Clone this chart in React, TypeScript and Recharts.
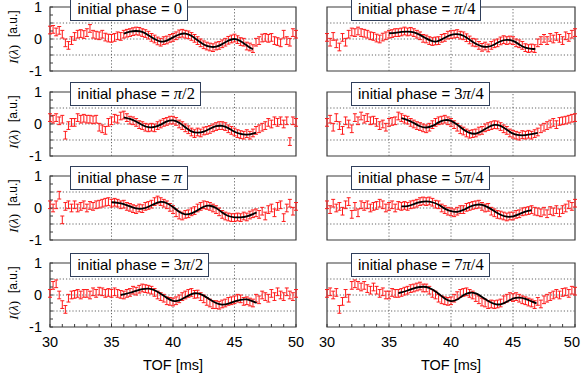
import React from 'react';
import { ComposedChart, Scatter, Line, XAxis, YAxis, ErrorBar, ReferenceLine, ReferenceArea } from 'recharts';

// ---------- data ----------
const TOF = [
  30, 30.25, 30.5, 30.75, 31, 31.25, 31.5, 31.75, 32, 32.25, 32.5, 32.75,
  33, 33.25, 33.5, 33.75, 34, 34.25, 34.5, 34.75, 35, 35.25, 35.5, 35.75,
  36, 36.25, 36.5, 36.75, 37, 37.25, 37.5, 37.75, 38, 38.25, 38.5, 38.75,
  39, 39.25, 39.5, 39.75, 40, 40.25, 40.5, 40.75, 41, 41.25, 41.5, 41.75,
  42, 42.25, 42.5, 42.75, 43, 43.25, 43.5, 43.75, 44, 44.25, 44.5, 44.75,
  45, 45.25, 45.5, 45.75, 46, 46.25, 46.5, 46.75, 47, 47.25, 47.5, 47.75,
  48, 48.25, 48.5, 48.75, 49, 49.25, 49.5, 49.75, 50,
];
const X_TICKS = [30, 31, 32, 33, 34, 35, 36, 37, 38, 39, 40, 41, 42, 43, 44, 45, 46, 47, 48, 49, 50];
const X_LABELED = [30, 35, 40, 45, 50];
const Y_TICKS = [-1, -0.75, -0.5, -0.25, 0, 0.25, 0.5, 0.75, 1];
const Y_LABELED = [-1, 0, 1];
const X_GRID = [35, 40, 45];
const Y_GRID = [-0.5, 0, 0.5];
const ERR = 0.12;

const PHASE_LABELS = ['0', 'π/4', 'π/2', '3π/4', 'π', '5π/4', '3π/2', '7π/4'];

const I_PH0 = [
  0.28, 0.3, 0.22, 0.27, 0.15, -0.12, -0.2, -0.05, 0.08, 0.15, 0.17, 0.14,
  0.2, 0.33, 0.15, 0.12, 0.1, 0.15, 0.06, 0.03, 0.02, 0.05, 0.1, 0.08,
  0.15, 0.18, 0.2, 0.23, 0.25, 0.24, 0.2, 0.17, 0.12, 0.05, 0.0, -0.06,
  -0.1, -0.05, -0.03, 0.02, 0.05, 0.1, 0.16, 0.18, 0.15, 0.13, 0.08, 0.02,
  -0.05, -0.12, -0.18, -0.22, -0.25, -0.27, -0.22, -0.2, -0.15, -0.1, -0.04, 0.0,
  0.03, -0.02, -0.08, -0.1, -0.22, -0.25, -0.3, -0.1, -0.05, 0.03, 0.05, 0.02,
  0.05, -0.05, -0.08, -0.12, 0.15, -0.05, -0.1, 0.2, 0.15,
];
const I_PH1 = [
  0.05, -0.1, 0.08, -0.15, -0.25, 0.05, -0.1, 0.15, 0.22, 0.2, 0.25, 0.2,
  0.18, 0.15, 0.1, 0.08, 0.03, 0.0, 0.06, 0.1, 0.15, 0.17, 0.2, 0.2,
  0.22, 0.25, 0.22, 0.24, 0.2, 0.15, 0.1, 0.02, 0.0, -0.05, -0.08, -0.06,
  -0.05, 0.02, 0.05, 0.12, 0.14, 0.15, 0.17, 0.12, 0.1, 0.04, -0.03, -0.1,
  -0.12, -0.2, -0.26, -0.22, -0.28, -0.2, -0.15, -0.12, -0.06, -0.02, -0.05, -0.03,
  -0.05, -0.12, -0.15, -0.2, -0.27, -0.3, -0.28, -0.3, -0.12, -0.05, 0.02, -0.05,
  0.05, 0.0, 0.08, 0.02, -0.05, 0.1, 0.05, 0.15, 0.2,
];
const I_PH2 = [
  0.2, 0.15, 0.2, 0.1, 0.15, -0.35, -0.05, 0.05, 0.05, 0.2, 0.15, 0.18,
  0.15, 0.15, 0.13, 0.15, -0.1, -0.15, -0.2, 0.05, 0.1, 0.18, 0.15, 0.25,
  0.28, 0.2, 0.12, 0.1, 0.05, -0.02, -0.05, -0.1, -0.12, -0.1, -0.12, -0.05,
  0.0, 0.05, 0.08, 0.12, 0.12, 0.08, 0.0, -0.05, -0.12, -0.18, -0.25, -0.3,
  -0.25, -0.28, -0.22, -0.2, -0.17, -0.12, -0.08, -0.05, -0.05, -0.08, -0.15, -0.2,
  -0.25, -0.3, -0.33, -0.35, -0.3, -0.35, -0.28, -0.2, -0.15, -0.1, -0.05, 0.05,
  0.0, 0.1, 0.05, 0.1, 0.0, 0.1, -0.55, 0.1, 0.05,
];
const I_PH3 = [
  0.05, 0.15, -0.1, 0.2, -0.05, -0.2, 0.1, 0.0, -0.15, 0.2, 0.1, 0.25,
  0.15, 0.2, 0.1, 0.12, 0.05, -0.05, 0.0, -0.1, 0.05, 0.08, 0.1, 0.25,
  0.2, 0.15, 0.12, 0.05, 0.0, -0.05, -0.08, -0.12, -0.15, -0.1, -0.02, 0.05,
  0.1, 0.12, 0.15, 0.1, 0.05, -0.02, -0.1, -0.18, -0.22, -0.28, -0.32, -0.3,
  -0.28, -0.22, -0.2, -0.12, -0.08, -0.05, -0.02, -0.03, -0.08, -0.15, -0.2, -0.28,
  -0.32, -0.35, -0.38, -0.33, -0.35, -0.32, -0.35, -0.3, -0.25, -0.15, -0.1, -0.05,
  0.0, 0.05, -0.02, 0.08, 0.1, 0.12, 0.15, 0.18, 0.2,
];
const I_PH4 = [
  0.1, 0.0, 0.1, 0.4, -0.37, 0.05, 0.1, 0.0, 0.1, 0.0, 0.05, 0.1,
  0.0, 0.08, 0.05, 0.1, 0.12, 0.15, 0.18, 0.2, 0.15, 0.18, 0.15, 0.1,
  0.12, 0.05, 0.02, -0.02, -0.05, 0.0, -0.02, 0.05, 0.08, 0.12, 0.2, 0.25,
  0.2, 0.15, 0.1, 0.02, -0.05, -0.15, -0.22, -0.25, -0.2, -0.18, -0.12, -0.08,
  0.0, 0.05, 0.1, 0.08, 0.05, 0.0, -0.05, -0.12, -0.2, -0.25, -0.28, -0.3,
  -0.3, -0.28, -0.3, -0.25, -0.28, -0.22, -0.18, -0.15, -0.2, -0.1, -0.25, -0.05,
  0.0, -0.15, 0.05, 0.1, -0.3, 0.0, 0.15, -0.1, 0.05,
];
const I_PH5 = [
  0.1, -0.05, 0.15, 0.0, 0.05, -0.1, 0.1, 0.2, -0.2, 0.05, -0.15, 0.1,
  0.05, 0.1, 0.0, 0.05, 0.08, 0.15, 0.1, 0.0, 0.05, 0.1, 0.0, 0.08,
  0.05, 0.08, 0.05, 0.1, 0.12, 0.15, 0.2, 0.22, 0.2, 0.22, 0.18, 0.12,
  0.1, 0.0, -0.05, -0.1, -0.12, -0.15, -0.1, -0.05, -0.05, 0.02, 0.05, 0.08,
  0.1, 0.12, 0.05, 0.0, 0.02, -0.1, -0.15, -0.2, -0.22, -0.25, -0.28, -0.25,
  -0.25, -0.2, -0.18, -0.12, -0.1, -0.08, -0.05, -0.1, -0.12, -0.15, -0.1, -0.18,
  -0.08, -0.12, -0.05, -0.15, -0.05, 0.0, 0.1, 0.05, 0.15,
];
const I_PH6 = [
  0.05, 0.3, 0.35, 0.0, -0.3, -0.45, -0.1, 0.0, 0.02, 0.05, 0.0, 0.05,
  0.05, 0.0, 0.1, 0.05, 0.12, 0.1, 0.05, 0.08, 0.05, 0.1, 0.05, 0.02,
  0.0, 0.05, 0.08, 0.15, 0.12, 0.18, 0.22, 0.2, 0.18, 0.15, 0.08, 0.0,
  -0.05, -0.1, -0.18, -0.2, -0.22, -0.18, -0.12, -0.05, 0.0, 0.05, 0.08, 0.02,
  0.03, -0.05, -0.12, -0.2, -0.25, -0.3, -0.3, -0.32, -0.28, -0.25, -0.2, -0.18,
  -0.15, -0.1, -0.12, -0.2, -0.18, -0.22, -0.25, -0.1, -0.15, 0.0, -0.05, -0.1,
  0.05, -0.05, 0.1, 0.0, -0.05, 0.1, 0.0, -0.05, 0.05,
];
const I_PH7 = [
  0.05, 0.1, 0.0, 0.08, -0.45, -0.2, 0.05, -0.1, 0.3, 0.35, 0.3, 0.25,
  0.3, 0.2, 0.15, 0.25, 0.15, 0.05, 0.1, 0.0, 0.0, 0.08, 0.05, 0.05,
  0.08, 0.12, 0.15, 0.2, 0.22, 0.25, 0.28, 0.22, 0.22, 0.15, 0.05, 0.0,
  -0.1, -0.15, -0.18, -0.2, -0.18, -0.1, -0.02, 0.05, 0.08, 0.1, 0.05, 0.0,
  -0.08, -0.15, -0.22, -0.25, -0.3, -0.28, -0.3, -0.28, -0.25, -0.15, -0.1, -0.05,
  -0.08, -0.05, -0.1, -0.15, -0.18, -0.22, -0.25, -0.3, -0.2, -0.28, -0.15, -0.1,
  -0.05, 0.0, 0.05, 0.0, 0.08, 0.1, 0.05, 0.15, 0.12,
];

const FIT_X_PH0 = [36, 36.5, 37, 37.5, 38, 38.5, 39, 39.5, 40, 40.5, 41, 41.5, 42, 42.5, 43, 43.5, 44, 44.5, 45, 45.5, 46, 46.5];
const FIT_Y_PH0 = [0.17, 0.23, 0.25, 0.22, 0.12, 0.0, -0.08, -0.05, 0.05, 0.14, 0.17, 0.1, -0.04, -0.17, -0.24, -0.24, -0.16, -0.05, 0.0, -0.07, -0.2, -0.32];
const FIT_X_PH1 = [35, 35.5, 36, 36.5, 37, 37.5, 38, 38.5, 39, 39.5, 40, 40.5, 41, 41.5, 42, 42.5, 43, 43.5, 44, 44.5, 45, 45.5, 46, 46.5, 46.8];
const FIT_Y_PH1 = [0.18, 0.19, 0.22, 0.23, 0.21, 0.13, 0.02, -0.07, -0.06, 0.04, 0.13, 0.15, 0.1, -0.02, -0.15, -0.23, -0.24, -0.17, -0.07, -0.03, -0.06, -0.17, -0.27, -0.31, -0.31];
const FIT_X_PH2 = [36, 36.5, 37, 37.5, 38, 38.5, 39, 39.5, 40, 40.5, 41, 41.5, 42, 42.5, 43, 43.5, 44, 44.5, 45, 45.5, 46, 46.5, 46.75];
const FIT_Y_PH2 = [0.21, 0.16, 0.08, -0.03, -0.1, -0.09, -0.02, 0.08, 0.11, 0.04, -0.1, -0.23, -0.27, -0.24, -0.15, -0.07, -0.06, -0.13, -0.24, -0.31, -0.33, -0.3, -0.27];
const FIT_X_PH3 = [36, 36.5, 37, 37.5, 38, 38.5, 39, 39.5, 40, 40.5, 41, 41.5, 42, 42.5, 43, 43.5, 44, 44.5, 45, 45.5, 46, 46.5, 47];
const FIT_Y_PH3 = [0.18, 0.12, 0.03, -0.07, -0.11, -0.06, 0.05, 0.12, 0.1, -0.02, -0.17, -0.28, -0.3, -0.22, -0.1, -0.03, -0.06, -0.18, -0.3, -0.35, -0.35, -0.32, -0.28];
const FIT_X_PH4 = [35, 35.5, 36, 36.5, 37, 37.5, 38, 38.5, 39, 39.5, 40, 40.5, 41, 41.5, 42, 42.5, 43, 43.5, 44, 44.5, 45, 45.5, 46, 46.5, 46.8];
const FIT_Y_PH4 = [0.18, 0.16, 0.12, 0.05, -0.01, -0.02, 0.04, 0.13, 0.19, 0.15, 0.03, -0.12, -0.2, -0.17, -0.07, 0.04, 0.07, 0.0, -0.14, -0.25, -0.29, -0.29, -0.26, -0.19, -0.14];
const FIT_X_PH5 = [36, 36.5, 37, 37.5, 38, 38.5, 39, 39.5, 40, 40.5, 41, 41.5, 42, 42.5, 43, 43.5, 44, 44.5, 45, 45.5, 46, 46.5];
const FIT_Y_PH5 = [0.05, 0.06, 0.12, 0.18, 0.21, 0.18, 0.1, -0.02, -0.1, -0.12, -0.06, 0.04, 0.1, 0.1, 0.02, -0.1, -0.21, -0.27, -0.26, -0.19, -0.11, -0.07];
const FIT_X_PH6 = [35.75, 36, 36.5, 37, 37.5, 38, 38.5, 39, 39.5, 40, 40.5, 41, 41.5, 42, 42.5, 43, 43.5, 44, 44.5, 45, 45.5, 46, 46.5, 46.8];
const FIT_Y_PH6 = [0.0, 0.02, 0.07, 0.13, 0.18, 0.2, 0.15, 0.04, -0.09, -0.18, -0.17, -0.07, 0.03, 0.05, -0.02, -0.14, -0.25, -0.3, -0.27, -0.2, -0.15, -0.14, -0.2, -0.25];
const FIT_X_PH7 = [35.75, 36, 36.5, 37, 37.5, 38, 38.5, 39, 39.5, 40, 40.5, 41, 41.5, 42, 42.5, 43, 43.5, 44, 44.5, 45, 45.5, 46, 46.5, 46.9];
const FIT_Y_PH7 = [0.06, 0.08, 0.14, 0.21, 0.25, 0.25, 0.17, 0.04, -0.11, -0.19, -0.14, -0.01, 0.07, 0.05, -0.06, -0.19, -0.28, -0.29, -0.21, -0.11, -0.08, -0.12, -0.2, -0.26];

const SERIES = [I_PH0, I_PH1, I_PH2, I_PH3, I_PH4, I_PH5, I_PH6, I_PH7];
const FITS_X = [FIT_X_PH0, FIT_X_PH1, FIT_X_PH2, FIT_X_PH3, FIT_X_PH4, FIT_X_PH5, FIT_X_PH6, FIT_X_PH7];
const FITS_Y = [FIT_Y_PH0, FIT_Y_PH1, FIT_Y_PH2, FIT_Y_PH3, FIT_Y_PH4, FIT_Y_PH5, FIT_Y_PH6, FIT_Y_PH7];

// ---------- layout / style ----------
const SANS = '"Liberation Sans", Arial, Helvetica, sans-serif';
const SERIF = '"Liberation Serif", "Times New Roman", serif';
const ROW_TOPS = [7, 92, 176, 263];
const PLOT_H = 64;
const RED = '#ff1a1a';
const FRAME = '#3a3a3a';
const TICK_LEN = 3;

function renderMath(s: string) {
  const parts = s.split('π');
  const out: React.ReactNode[] = [];
  parts.forEach((p, i) => {
    if (i > 0) out.push(<i key={'pi' + i}>π</i>);
    if (p) out.push(<span key={'t' + i}>{p}</span>);
  });
  return out;
}

function Panel({ idx, col, row }: { idx: number; col: number; row: number }) {
  const left = col === 0;
  const bottom = row === 3;
  const plotTop = ROW_TOPS[row];
  const mTop = 10;
  const mBottom = 10;
  const xAxisH = bottom ? 52 : 0;
  const width = left ? 312 : 281;
  const height = mTop + PLOT_H + xAxisH + mBottom;
  const margin = left
    ? { top: mTop, right: 16, bottom: mBottom, left: 20 }
    : { top: mTop, right: 6, bottom: mBottom, left: 27 };
  const pts = TOF.map((x, i) => ({ x, y: SERIES[idx][i], e: ERR }));
  const fit = FITS_X[idx].map((x, i) => ({ x, y: FITS_Y[idx][i] }));
  const lastX = X_LABELED[X_LABELED.length - 1];

  const bottomTick = (p: any) => {
    const v = p.payload.value;
    const edge = !left && v === lastX;
    return (
      <g>
        <line x1={p.x} x2={p.x} y1={p.y} y2={p.y - TICK_LEN} stroke={FRAME} strokeWidth={1} />
        {bottom && X_LABELED.includes(v) ? (
          <text
            x={edge ? p.x + 5 : p.x}
            y={p.y + 20}
            textAnchor={edge ? 'end' : 'middle'}
            fontSize={14.5}
            fontFamily={SANS}
            fill="#000"
          >
            {v}
          </text>
        ) : null}
      </g>
    );
  };
  const topTick = (p: any) => (
    <line x1={p.x} x2={p.x} y1={p.y} y2={p.y + TICK_LEN} stroke={FRAME} strokeWidth={1} />
  );
  const leftTick = (p: any) => {
    const v = p.payload.value;
    return (
      <g>
        <line x1={p.x} x2={p.x + TICK_LEN} y1={p.y} y2={p.y} stroke={FRAME} strokeWidth={1} />
        {left && Y_LABELED.includes(v) ? (
          <text x={p.x - 8} y={p.y + 5} textAnchor="end" fontSize={14.5} fontFamily={SANS} fill="#000">
            {v}
          </text>
        ) : null}
      </g>
    );
  };
  const rightTick = (p: any) => (
    <line x1={p.x} x2={p.x - TICK_LEN} y1={p.y} y2={p.y} stroke={FRAME} strokeWidth={1} />
  );

  const yTitle = (p: any) => {
    const vb = p.viewBox || {};
    const cx = (vb.x ?? 20) - 7;
    const cy = (vb.y ?? 0) + (vb.height ?? PLOT_H) / 2 - 2;
    return (
      <text
        transform={`translate(${cx},${cy}) rotate(-90)`}
        textAnchor="middle"
        dominantBaseline="central"
        fontSize={12}
        fontFamily={SANS}
        fill="#000"
      >
        <tspan fontFamily={SERIF} fontStyle="italic" fontSize={13}>I</tspan>
        <tspan fontFamily={SERIF} fontSize={13}>(</tspan>
        <tspan fontFamily={SERIF} fontStyle="italic" fontSize={13}>λ</tspan>
        <tspan fontFamily={SERIF} fontSize={13}>)</tspan>
        <tspan dx={8}>[a.u.]</tspan>
      </text>
    );
  };

  const xTitle = (p: any) => {
    const vb = p.viewBox || {};
    const cx = (vb.x ?? 0) + (vb.width ?? 0) / 2;
    return (
      <text x={cx} y={(vb.y ?? 0) + 43} textAnchor="middle" fontSize={14.5} fontFamily={SANS} fill="#000">
        TOF [ms]
      </text>
    );
  };

  return (
    <div style={{ position: 'absolute', left: left ? 0 : 300, top: plotTop - mTop, width, height }}>
      <ComposedChart width={width} height={height} margin={margin}>
        <XAxis
          xAxisId="b"
          dataKey="x"
          type="number"
          orientation="bottom"
          domain={[30, 50]}
          ticks={X_TICKS}
          interval={0}
          allowDataOverflow
          height={xAxisH}
          axisLine={false}
          tickLine={false}
          tickSize={0}
          tickMargin={0}
          tick={bottomTick}
          label={bottom ? { content: xTitle } : undefined}
        />
        <XAxis
          xAxisId="t"
          dataKey="x"
          type="number"
          orientation="top"
          domain={[30, 50]}
          ticks={X_TICKS}
          interval={0}
          allowDataOverflow
          height={0}
          axisLine={false}
          tickLine={false}
          tickSize={0}
          tickMargin={0}
          tick={topTick}
        />
        <YAxis
          yAxisId="l"
          type="number"
          orientation="left"
          domain={[-1, 1]}
          ticks={Y_TICKS}
          interval={0}
          allowDataOverflow
          width={left ? 30 : 0}
          axisLine={false}
          tickLine={false}
          tickSize={0}
          tickMargin={0}
          tick={leftTick}
          label={left ? { content: yTitle } : undefined}
        />
        <YAxis
          yAxisId="r"
          type="number"
          orientation="right"
          domain={[-1, 1]}
          ticks={Y_TICKS}
          interval={0}
          allowDataOverflow
          width={0}
          axisLine={false}
          tickLine={false}
          tickSize={0}
          tickMargin={0}
          tick={rightTick}
        />
        {X_GRID.map((g) => (
          <ReferenceLine key={'vx' + g} x={g} xAxisId="b" yAxisId="l" stroke="#666" strokeDasharray="1.2 2" strokeWidth={1} />
        ))}
        {Y_GRID.map((g) => (
          <ReferenceLine key={'hy' + g} y={g} xAxisId="b" yAxisId="l" stroke="#666" strokeDasharray="1.2 2" strokeWidth={1} />
        ))}
        <Scatter
          data={pts}
          dataKey="y"
          xAxisId="b"
          yAxisId="l"
          isAnimationActive={false}
          shape={() => <g />}
        >
          <ErrorBar dataKey="e" direction="y" width={2} stroke={RED} strokeWidth={1} isAnimationActive={false} />
        </Scatter>
        <Line
          data={fit}
          dataKey="y"
          xAxisId="b"
          yAxisId="l"
          type="natural"
          dot={false}
          stroke="#000"
          strokeWidth={1.8}
          isAnimationActive={false}
        />
        <ReferenceArea x1={30} x2={50} y1={-1} y2={1} xAxisId="b" yAxisId="l" fill="none" fillOpacity={0} stroke={FRAME} strokeWidth={1.2} />
      </ComposedChart>
    </div>
  );
}

function PhaseBox({ idx, col, row }: { idx: number; col: number; row: number }) {
  return (
    <div
      style={{
        position: 'absolute',
        left: col === 0 ? 70 : 350.5,
        top: ROW_TOPS[row] - 10,
        height: 22,
        lineHeight: '22px',
        padding: '0 5px 0 6.5px',
        border: '1.5px solid #2f3e5a',
        background: '#fff',
        fontFamily: SANS,
        fontSize: 15,
        color: '#000',
        whiteSpace: 'nowrap',
      }}
    >
      initial phase ={' '}
      <span style={{ fontFamily: SERIF, fontSize: 16.5 }}>{renderMath(PHASE_LABELS[idx])}</span>
    </div>
  );
}

const LAYOUT = [
  { idx: 0, col: 0, row: 0 },
  { idx: 1, col: 1, row: 0 },
  { idx: 2, col: 0, row: 1 },
  { idx: 3, col: 1, row: 1 },
  { idx: 4, col: 0, row: 2 },
  { idx: 5, col: 1, row: 2 },
  { idx: 6, col: 0, row: 3 },
  { idx: 7, col: 1, row: 3 },
];

export default function App() {
  return (
    <div style={{ position: 'absolute', left: 0, top: 0, width: 581, height: 383, background: '#fff', overflow: 'hidden' }}>
      {LAYOUT.map((l) => (
        <Panel key={'p' + l.idx} {...l} />
      ))}
      {LAYOUT.map((l) => (
        <PhaseBox key={'b' + l.idx} {...l} />
      ))}
    </div>
  );
}
